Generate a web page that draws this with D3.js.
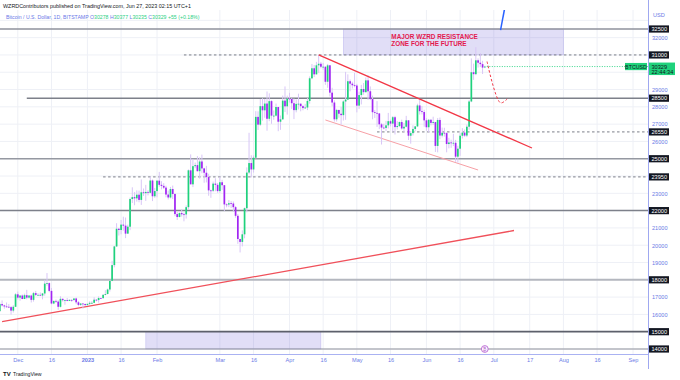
<!DOCTYPE html>
<html><head><meta charset="utf-8">
<script src="https://cdn.jsdelivr.net/npm/d3@7/dist/d3.min.js"></script>
<style>
body{margin:0;background:#fff}
svg{display:block;font-family:"Liberation Sans",Arial,sans-serif}
</style>
</head><body>
<svg id="chart" width="680" height="380"></svg>
<script>
// ---------------- DATA ----------------
const firstDay = "2022-11-23"; // daily candles, one per day from this date
const opens = [
16190,16600,16520,16460,16440,16420,16220,16440,
17160,16970,17090,16890,17110,16970,17090,16840,17230,17130,17130,17090,17210,17780,17810,17360,16630,16780,16740,16440,16900,16820,16830,16780,16840,16830,16920,16700,16550,16630,16600,
16540,16610,16670,16670,16850,16830,16950,16940,17130,17180,17440,17940,18850,19930,20950,20880,21190,21130,20670,21070,22670,22780,22710,22920,22620,23060,23010,23080,23030,23740,22830,
23130,23730,23490,23430,23330,22930,22760,23250,22960,21800,21630,21860,21790,21780,22200,24330,23520,24570,24630,24280,24840,24440,24190,23940,23170,23150,23560,23490,
23130,23640,23470,22360,22350,22430,22410,22200,21700,20360,20190,20630,22140,24200,24750,24380,25060,27420,26970,28040,27800,28190,27310,28330,27490,27490,27990,27140,27280,28360,28030,
28480,28450,28210,27810,28170,28180,28040,27930,27960,28340,29650,30230,29880,30400,30490,30320,30320,29450,30400,28820,28250,27280,27820,27600,27520,28310,28420,29480,29340,29250,
29230,28070,28680,29030,28850,29530,28900,28450,27690,27650,27620,26990,26800,26780,26930,27170,27030,27400,26830,26890,27120,26750,26850,27220,26330,26480,26720,26870,28080,27750,27700,
27220,26820,27250,27070,27120,25740,27240,26340,26500,26480,25850,25940,25900,25920,25120,25580,26330,26510,26340,26850,28310,30000,29890,30690,30550,30470,30278];
const highs = [
16680,16810,16560,16690,16600,16480,16530,17230,
17320,17110,17150,17200,17420,17110,17140,17300,17360,17230,17270,17240,18000,18390,17850,17530,16800,16860,16820,17050,16920,16860,16950,16870,16860,16940,16970,16780,16650,16640,16630,
16630,16760,16780,16990,16880,17040,16960,17180,17400,17490,17990,19100,19960,21270,21000,21460,21650,21600,21190,22750,23350,23070,23170,23160,23800,23280,23490,23180,23960,23800,23310,
23770,24240,23700,23590,23440,23160,23370,23450,23010,21930,21900,22080,21890,22300,24380,25250,24990,24780,25150,25080,25240,24480,24590,24130,23210,23680,23870,23600,
23960,23780,23480,22420,22610,22550,22530,22260,21800,20370,20860,22180,24500,26500,25200,25190,27750,27740,28450,28500,28460,28890,28780,28380,27790,28190,28000,27500,28650,29180,28650,
28810,28520,28480,28430,28760,28200,28090,28170,28520,29760,30480,30420,30600,31000,30600,30540,30330,30480,30420,29100,28380,27890,27830,28000,28380,30020,29880,29580,29450,29960,
29330,28880,29270,29380,29700,29830,29180,28650,27820,28330,27630,27070,27020,27190,27650,27260,27470,27480,27170,27150,27260,27070,27480,27230,26600,26930,26880,28180,28440,28050,27830,
27340,27300,27300,27430,27130,27350,27380,26800,26790,26530,26210,26100,26440,26090,25750,26480,26770,26690,26980,28400,30800,30500,31450,30800,31100,30660,30377];
const lows = [
16150,16460,16330,16400,16400,15990,16110,16430,
16860,16790,16880,16880,16870,16910,16690,16740,17060,17090,17070,16870,17080,17660,17280,16580,16590,16660,16270,16400,16740,16560,16760,16770,16730,16790,16590,16470,16490,16330,16490,
16490,16550,16600,16650,16750,16680,16900,16910,17100,17150,17320,17920,18720,19900,20560,20630,20840,20410,20660,20870,22440,22310,22520,22480,22330,22850,22560,22880,23000,22550,22740,
22770,23380,23230,23250,22770,22640,22700,22670,21680,21460,21610,21650,21380,21540,22050,23520,23360,24450,24260,23850,24160,23610,23630,22860,22740,23070,23120,23030,
23030,23200,21980,22190,22200,22150,21930,21590,20080,19580,19930,20400,21900,24100,23920,24200,25020,26660,26900,27200,27370,26620,27170,27020,27250,27440,26590,26670,27240,27700,27550,
28250,27880,27290,27680,27850,27740,27800,27880,27810,28180,29600,29720,29860,29950,30230,30140,29270,29100,28600,28030,27150,27150,27370,26970,27210,27250,28390,28900,29060,29130,
27680,27880,28140,28700,28810,28400,28390,27280,27360,26840,26710,25820,26700,26600,26750,26870,26560,26400,26690,26840,26680,26540,26810,26080,25870,26340,26590,26830,27550,27560,26850,
26620,26520,26930,26960,25390,25370,26130,26230,26280,25370,25600,25630,25730,24820,24770,25170,26170,26270,26250,26670,28270,29560,29830,30270,30300,29900,30235];
const closes = [
16600,16520,16460,16440,16420,16220,16440,17160,
16970,17090,16890,17110,16970,17090,16840,17230,17130,17130,17090,17210,17780,17810,17360,16630,16780,16740,16440,16900,16820,16830,16780,16840,16830,16920,16700,16550,16630,16600,16540,
16610,16670,16670,16850,16830,16950,16940,17130,17180,17440,17940,18850,19930,20950,20880,21190,21130,20670,21070,22670,22780,22710,22920,22620,23060,23010,23080,23030,23740,22830,23130,
23730,23490,23430,23330,22930,22760,23250,22960,21800,21630,21860,21790,21780,22200,24330,23520,24570,24630,24280,24840,24440,24190,23940,23170,23150,23560,23490,23130,
23640,23470,22360,22350,22430,22410,22200,21700,20360,20190,20630,22140,24200,24750,24380,25060,27420,26970,28040,27800,28190,27310,28330,27490,27490,27990,27140,27280,28360,28030,28480,
28450,28210,27810,28170,28180,28040,27930,27960,28340,29650,30230,29880,30400,30490,30320,30320,29450,30400,28820,28250,27280,27820,27600,27520,28310,28420,29480,29340,29250,29230,
28070,28680,29030,28850,29530,28900,28450,27690,27650,27620,26990,26800,26780,26930,27170,27030,27400,26830,26890,27120,26750,26850,27220,26330,26480,26720,26870,28080,27750,27700,27220,
26820,27250,27070,27120,25740,27240,26340,26500,26480,25850,25940,25900,25920,25120,25580,26330,26510,26340,26850,28310,30000,29890,30690,30550,30470,30270,30329];

const priceTicks = [32000,29000,28000,27000,26000,23000,21000,20000,19000,17000,16000];
const gridPrices = [14000,15000,16000,17000,18000,19000,20000,21000,22000,23000,24000,25000,26000,27000,28000,29000,30000,31000,32000,33000];
const timeTickDates = ["2022-12-01","2022-12-16","2023-01-01","2023-01-16","2023-02-01","2023-03-01","2023-03-16","2023-04-01","2023-04-16","2023-05-01","2023-05-16","2023-06-01","2023-06-16","2023-07-01","2023-07-17","2023-08-01","2023-08-16","2023-09-01"];
const timeTickLabels = ["Dec","16","2023","16","Feb","Mar","16","Apr","16","May","16","Jun","16","Jul","17","Aug","16","Sep"];

// horizontal level drawings
const levelPrices = [32500,31000,28500,26550,25000,23950,22000,18000,15000,14000];
const levelStart  = [null,"2023-02-13","2022-12-05","2023-05-10",null,"2023-01-08",null,null,null,null];
const levelDashed = [false,true,false,true,false,true,false,false,false,false];

// trend line drawings [date, price]
const upperTrend = [["2023-04-14",31000],["2023-07-18",25620]];
const lowerChannel = [["2023-04-17",27240],["2023-06-24",24350]];
const risingTrend = [["2022-11-24",15580],["2023-07-10",20850]];
const projection = [["2023-06-28",30620],["2023-07-04",28230],["2023-07-07",28460]];
const blueRay = [["2023-07-04",32440],["2023-07-06",33800]];
const topZone = [["2023-04-25",31000],["2023-08-01",32500]];
const bottomZone = [["2023-01-27",14000],["2023-04-15",15000]];
const zoneText = ["MAJOR WZRD RESISTANCE","ZONE FOR THE FUTURE"];

const lastPrice = 30329;

// ---------------- CHART ----------------
const svg = d3.select("#chart");
const P = {left:0, right:648, top:10, bottom:354};
const parse = d3.utcParse("%Y-%m-%d");
const day0 = parse(firstDay);
const dates = closes.map((_,i)=>d3.utcDay.offset(day0,i));

const x = d3.scaleUtc().domain([parse("2022-12-01"), parse("2023-09-01")]).range([17.8, 633]);
const y = d3.scaleLinear().domain([14000, 32500]).range([349, 29]);

svg.append("rect").attr("width",680).attr("height",380).attr("fill","#fff");

svg.append("defs").append("clipPath").attr("id","pane")
  .append("rect").attr("x",P.left).attr("y",P.top).attr("width",P.right-P.left).attr("height",P.bottom-P.top);

// grid
const grid = svg.append("g");
grid.selectAll("line.h").data(gridPrices).join("line")
  .attr("x1",P.left).attr("x2",P.right).attr("y1",d=>y(d)).attr("y2",d=>y(d))
  .attr("stroke","#eef0f6").attr("stroke-width",1);
grid.selectAll("line.v").data(timeTickDates).join("line")
  .attr("x1",d=>x(parse(d))).attr("x2",d=>x(parse(d))).attr("y1",P.top).attr("y2",P.bottom)
  .attr("stroke","#eef0f6").attr("stroke-width",1);

const pane = svg.append("g").attr("clip-path","url(#pane)");

// zones
function zone(z, g){
  g.append("rect")
   .attr("x",x(parse(z[0][0]))).attr("width",x(parse(z[1][0]))-x(parse(z[0][0])))
   .attr("y",y(z[1][1])).attr("height",y(z[0][1])-y(z[1][1]))
   .attr("fill","rgba(104,88,214,0.2)").attr("stroke","rgba(104,88,214,0.3)").attr("stroke-width",0.6);
}
zone(topZone,pane); zone(bottomZone,pane);

// levels
const levelColor = ["#8f929c","#7a7d87","#7d808a","#7a7d87","#9598a1","#7a7d87","#7d808a","#b4b7bf","#5d606b","#8f929c"];
const levelWidth = [1.5,1,1.5,1,1.5,1,1.5,2,1.8,1.2];
levelPrices.forEach((p,i)=>{
  pane.append("line")
    .attr("x1", levelStart[i] ? x(parse(levelStart[i])) : P.left)
    .attr("x2", P.right).attr("y1",y(p)).attr("y2",y(p))
    .attr("stroke",levelColor[i]).attr("stroke-width",levelWidth[i])
    .attr("stroke-dasharray", levelDashed[i] ? "2.5,2.5" : null);
});

// trend lines
const lineGen = d3.line().x(d=>x(parse(d[0]))).y(d=>y(d[1]));
pane.append("path").attr("d",lineGen(risingTrend)).attr("fill","none").attr("stroke","#f0505a").attr("stroke-width",1.3);
pane.append("path").attr("d",lineGen(lowerChannel)).attr("fill","none").attr("stroke","#f7a0a6").attr("stroke-width",1);

// candles
const cw = 1.7;
const cg = pane.append("g");
cg.selectAll("line").data(closes).join("line")
  .attr("x1",(d,i)=>x(dates[i])).attr("x2",(d,i)=>x(dates[i]))
  .attr("y1",(d,i)=>y(highs[i])).attr("y2",(d,i)=>y(lows[i]))
  .attr("stroke","#d8c6f6").attr("stroke-width",1);
cg.selectAll("rect").data(closes).join("rect")
  .attr("x",(d,i)=>x(dates[i])-cw/2).attr("width",cw)
  .attr("y",(d,i)=>y(Math.max(opens[i],d)))
  .attr("height",(d,i)=>Math.max(0.8, Math.abs(y(opens[i])-y(d))))
  .attr("fill",(d,i)=> d>=opens[i] ? "#1fd27c" : "#a226f2");

pane.append("path").attr("d",lineGen(upperTrend)).attr("fill","none").attr("stroke","#f23645").attr("stroke-width",1.3);
pane.append("path").attr("d",d3.line().x(d=>x(parse(d[0]))).y(d=>y(d[1])).curve(d3.curveCatmullRom)(projection))
  .attr("fill","none").attr("stroke","#f23645").attr("stroke-width",1).attr("stroke-dasharray","2.5,2");
pane.append("path").attr("d",lineGen(blueRay)).attr("fill","none").attr("stroke","#2962ff").attr("stroke-width",1.5);

// zone text
const tx = x(parse(topZone[0][0])) + 48;
zoneText.forEach((t,i)=>{
  svg.append("text").attr("x",tx).attr("y",y(32500)+9.6+i*7.2).text(t)
    .attr("font-size",6.4).attr("font-weight","bold").attr("fill","#e3194f");
});

// last price dotted line
const lastX = x(dates[dates.length-1]);
svg.append("line").attr("x1",lastX+2).attr("x2",P.right).attr("y1",y(lastPrice)).attr("y2",y(lastPrice))
  .attr("stroke","#37d68a").attr("stroke-width",1).attr("stroke-dasharray","1,1.5");

// event marker
const ev = svg.append("g").attr("transform",`translate(${x(parse("2023-06-27"))},${y(14000)})`);
ev.append("circle").attr("r",3.4).attr("fill","#fff").attr("stroke","#c070d8").attr("stroke-width",1);
ev.append("text").attr("y",1.8).attr("text-anchor","middle").attr("font-size",4.6).attr("fill","#b05ccc").text("₿");

// axes borders
svg.append("line").attr("x1",P.right+0.5).attr("x2",P.right+0.5).attr("y1",0).attr("y2",369).attr("stroke","#9fa8f0").attr("stroke-width",1);
svg.append("line").attr("x1",0).attr("x2",P.right).attr("y1",P.bottom+0.5).attr("y2",P.bottom+0.5).attr("stroke","#aab2f2").attr("stroke-width",1);

// price axis
const yAxis = d3.axisRight(y).tickValues(priceTicks).tickSize(0).tickPadding(0).tickFormat(d3.format("d"));
const ya = svg.append("g").attr("transform",`translate(${P.right+4},0)`).call(yAxis);
ya.select(".domain").remove();
ya.selectAll("text").attr("font-size",5.6).attr("fill","#6c7be6").attr("font-family","Liberation Sans, Arial");
svg.append("text").attr("x",P.right+5).attr("y",17).text("USD").attr("font-size",5.6).attr("fill","#6c7be6");

// level labels
levelPrices.forEach(p=>{
  svg.append("rect").attr("x",P.right+1).attr("y",y(p)-3.6).attr("width",20).attr("height",7.2).attr("fill","#131722");
  svg.append("text").attr("x",P.right+3.5).attr("y",y(p)+2).text(p).attr("font-size",5.6).attr("fill","#fff");
});

// last price label
svg.append("rect").attr("x",P.right+1).attr("y",y(lastPrice)-4).attr("width",26).attr("height",12.5).attr("fill","#1fd27c");
svg.append("text").attr("x",P.right+3.5).attr("y",y(lastPrice)+2).text(lastPrice).attr("font-size",5.6).attr("fill","#131722");
svg.append("text").attr("x",P.right+3.5).attr("y",y(lastPrice)+7.6).text("22:44:34").attr("font-size",5.6).attr("fill","#131722");
svg.append("rect").attr("x",P.right-23).attr("y",y(lastPrice)-3.6).attr("width",22).attr("height",7.2).attr("fill","#1fd27c");
svg.append("text").attr("x",P.right-12).attr("y",y(lastPrice)+2).attr("text-anchor","middle").text("BTCUSD").attr("font-size",5.3).attr("fill","#131722");

// time axis
const xAxis = d3.axisBottom(x).tickValues(timeTickDates.map(parse)).tickSize(0).tickPadding(0)
  .tickFormat((d,i)=>timeTickLabels[i]);
const xa = svg.append("g").attr("transform",`translate(0,${P.bottom+4})`).call(xAxis);
xa.select(".domain").remove();
xa.selectAll("text").attr("font-size",5.6).attr("fill","#6c7be6").attr("font-family","Liberation Sans, Arial")
  .attr("font-weight",(d,i)=> timeTickLabels[i]==="2023" ? "bold":"normal");

// header
svg.append("text").attr("x",3).attr("y",8).text("WZRDContributors published on TradingView.com, Jun 27, 2023 02:15 UTC+1")
  .attr("font-size",5.4).attr("fill","#131722");
const leg = svg.append("text").attr("x",6).attr("y",18.5).attr("font-size",5.2);
leg.append("tspan").attr("fill","#6a78e8").text("Bitcoin / U.S. Dollar, 1D, BITSTAMP ");
[["O",30278],["H",30377],["L",30235],["C",30329]].forEach(([k,v])=>{
  leg.append("tspan").attr("fill","#6a78e8").text(" "+k);
  leg.append("tspan").attr("fill","#2bd083").text(v);
});
leg.append("tspan").attr("fill","#2bd083").text("  +55 (+0.18%)");

// logo
svg.append("text").attr("x",3).attr("y",376).text("TV").attr("font-size",6).attr("font-weight","900").attr("fill","#131722");
svg.append("text").attr("x",13).attr("y",376).text("TradingView").attr("font-size",5.2).attr("fill","#131722");
</script>
</body></html>
